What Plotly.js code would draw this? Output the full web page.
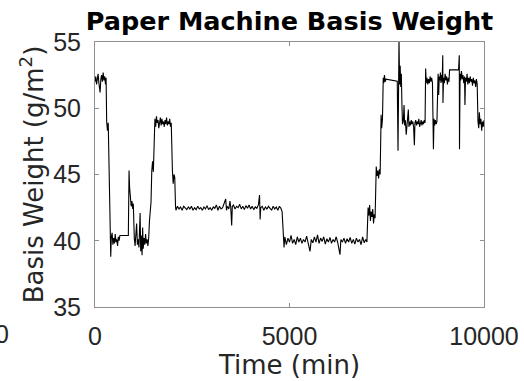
<!DOCTYPE html>
<html>
<head>
<meta charset="utf-8">
<script src="https://cdn.plot.ly/plotly-3.0.1.min.js"></script>
<style>html,body{margin:0;padding:0;background:#fff;}#chart{width:524px;height:381px;}</style>
</head>
<body>
<div id="chart"></div>
<script>
// Time stamps (min) and basis weight (g/m^2)
var timeMin = [
  0,20,40,60,80,100,130,150,170,190,210,230,250,270,285,
  300,320,340,360,375,390,405,420,
  440,460,480,500,520,540,560,580,600,620,640,857,
  875,890,910,930,950,970,985,
  1000,1010,1030,1050,1070,1090,1110,1130,1150,1160,1175,1190,1210,1225,1240,1260,1280,1300,1320,1340,1360,1380,
  1400,1420,1440,1460,1480,1500,1520,
  1540,1560,1580,1600,1620,1640,1660,1680,1700,1720,1740,1760,1780,1800,1820,1840,1860,1880,1900,1920,1940,1960,
  1990,2010,2030,2050,2070,
  2080,2120,2160,2200,2240,2280,2320,2360,2400,2440,2480,2520,2560,2600,2640,2680,2720,2760,2800,2840,2880,2920,2960,3000,
  3040,3080,3120,3160,3200,3240,3280,3320,3360,3380,3400,3440,3470,3490,3514,3530,3560,3600,3640,3680,3720,3760,3800,3840,
  3880,3920,3960,4000,4040,4080,4120,4160,4200,4230,4245,4260,4300,4340,4380,4420,4460,4500,4540,4580,4620,4660,4700,4740,4780,4810,
  4840,4860,4880,4920,4960,5000,5040,5080,5120,5160,5200,5240,5280,5320,5360,5400,5440,5480,5527,5560,5600,5640,5680,5720,
  5760,5800,5840,5880,5920,5960,6000,6040,6080,6120,6160,6200,6240,6298,6320,6360,6400,6440,6480,6520,6560,6600,6640,6680,
  6720,6760,6800,6840,6880,6920,6960,6990,
  7000,7020,7040,7060,7080,7100,7120,7140,7160,7180,7200,
  7215,7230,7250,7270,7290,7310,7330,
  7340,7355,7370,7390,
  7410,7425,7440,7460,7480,7770,
  7790,7800,7815,7830,7845,7860,7875,7890,7905,
  7925,7945,7960,7980,8000,8020,8040,8055,8070,8090,8110,8130,8150,8170,8190,8210,8225,8245,8265,8285,8305,8325,8345,8365,
  8385,8405,8425,8445,8465,8485,
  8500,8515,8535,8555,8575,8595,8615,8635,8655,8675,
  8700,8715,8730,8750,8770,8790,
  8805,8820,8835,8850,8865,8880,8895,8910,8925,8940,8945,8960,8980,9000,9020,9040,9060,9080,9100,9115,9345,
  9365,9370,9385,9400,9420,9440,9460,9480,9500,9510,9525,9545,9565,9585,9605,9625,9645,9665,9685,9705,9725,9745,9765,9785,9805,9825,
  9845,9865,9880,9900,9920,9940,9960,9980,10000
];
var basisWeight = [
  52.0,52.4,51.8,52.3,52.6,51.9,51.2,52.2,52.5,52.0,52.7,52.1,52.4,51.8,52.3,
  49.0,48.3,48.9,46.0,45.2,42.0,38.8,40.3,
  40.6,39.7,40.2,39.8,40.5,39.9,40.1,39.6,40.3,40.0,40.4,40.4,
  45.3,44.0,43.2,42.6,43.0,42.4,42.8,
  40.2,40.2,39.6,40.3,41.3,39.7,40.1,39.5,40.6,42.1,39.2,40.4,38.9,41.0,39.4,40.2,39.7,40.5,39.8,40.1,39.6,40.2,
  41.5,42.5,42.9,45.3,46.0,45.2,48.6,
  49.2,48.6,49.4,48.9,49.1,48.5,49.0,49.3,48.7,49.2,48.8,49.0,48.6,49.1,48.8,49.3,48.7,49.0,48.8,49.2,48.6,48.9,
  45.3,44.3,45.0,44.8,42.6,
  42.3,42.6,42.4,42.55,42.3,42.6,42.45,42.35,42.55,42.4,42.6,42.3,42.5,42.35,42.6,42.4,42.5,42.3,42.55,42.4,42.65,42.35,42.5,42.3,
  42.55,42.45,42.7,42.3,42.6,42.4,42.5,42.8,43.15,42.3,42.6,42.4,43.0,42.5,41.15,42.6,42.7,42.4,42.6,42.5,42.75,42.4,42.6,42.35,
  42.65,42.45,42.7,42.4,42.6,42.35,42.55,42.45,42.7,43.45,41.6,42.5,42.6,42.3,42.55,42.4,42.6,42.45,42.3,42.6,42.4,42.55,42.3,42.6,42.45,42.2,
  40.1,39.5,40.3,39.7,40.2,39.9,40.4,39.8,40.1,39.7,40.3,39.9,40.2,39.8,40.1,39.9,40.35,39.8,39.2,40.1,39.85,40.3,39.9,40.45,
  39.8,40.2,39.95,40.3,39.75,40.15,39.9,40.25,39.8,40.1,39.9,40.3,39.85,38.95,40.1,39.9,40.2,39.8,40.15,39.9,40.25,39.8,40.1,39.75,
  40.2,39.9,40.1,39.7,40.3,39.85,40.1,39.9,
  41.6,42.5,41.9,42.7,41.5,42.2,41.8,42.4,41.3,42.0,41.7,
  44.8,45.6,44.9,45.3,44.7,45.4,45.0,
  48.6,49.5,48.5,49.2,
  52.3,51.9,52.5,52.0,52.2,52.05,
  46.8,52.0,55.2,51.8,53.2,51.6,52.6,50.3,48.8,
  49.0,50.25,48.7,49.1,48.0,48.9,49.2,49.9,48.6,49.0,48.7,49.1,48.8,49.0,48.6,47.2,48.9,49.1,48.7,49.0,48.8,49.2,48.6,48.9,
  49.1,48.7,49.0,48.8,49.1,48.9,
  53.0,51.9,52.3,51.8,52.2,51.9,52.4,52.0,52.3,51.9,
  46.9,49.2,48.7,49.1,48.8,49.0,
  52.2,52.6,51.0,52.4,52.1,52.7,51.9,52.5,52.0,54.0,50.4,52.3,51.9,52.6,52.1,52.4,51.8,52.3,52.0,52.9,52.9,
  54.0,46.9,52.6,52.1,52.8,52.2,52.5,51.9,52.4,50.25,52.3,52.0,52.6,51.8,52.3,51.9,52.4,52.0,52.2,51.7,52.3,51.9,52.1,51.6,52.2,51.8,
  49.0,48.5,49.7,48.8,49.2,48.3,49.0,48.6,49.1
];
var xTicks = [0, 5000, 10000];
var yTicks = [35, 40, 45, 50, 55];
var xRange = [0, 10000];
var yRange = [35, 55];

var tickFont = {family: 'Liberation Sans, Arial, sans-serif', size: 25, color: '#262626'};
var labelFont = {family: 'DejaVu Sans, sans-serif', size: 26, color: '#262626'};

var trace = {
  x: timeMin, y: basisWeight, type: 'scatter', mode: 'lines',
  line: {color: '#000000', width: 1.1}, hoverinfo: 'skip'
};

var axisCommon = {
  showline: true, mirror: 'ticks', linecolor: '#8f8f8f', linewidth: 1,
  ticks: 'inside', ticklen: 4, tickcolor: '#8f8f8f', tickwidth: 1,
  showgrid: false, zeroline: false, tickfont: tickFont, fixedrange: true
};

var layout = {
  width: 524, height: 381,
  margin: {l: 95, r: 40, t: 42, b: 74, pad: 0},
  paper_bgcolor: '#ffffff', plot_bgcolor: '#ffffff',
  showlegend: false,
  title: {
    text: '<b>Paper Machine Basis Weight</b>',
    font: {family: 'DejaVu Sans, sans-serif', size: 25.5, color: '#000000'},
    xref: 'paper', x: 0.5, xanchor: 'center',
    yref: 'container', y: 0.944, yanchor: 'middle'
  },
  xaxis: Object.assign({}, axisCommon, {
    range: xRange, tickvals: xTicks, ticktext: xTicks.map(String),
    ticklabelstandoff: 7,
    title: {text: 'Time (min)', font: labelFont, standoff: 6}
  }),
  yaxis: Object.assign({}, axisCommon, {
    range: yRange, tickvals: yTicks, ticktext: yTicks.map(String),
    ticklabelstandoff: 8,
    title: {text: 'Basis Weight (g/m<sup>2</sup>)', font: labelFont, standoff: 2}
  }),
  annotations: [{
    text: '0', xref: 'paper', yref: 'paper', x: -0.238, y: -0.1,
    xanchor: 'center', yanchor: 'middle', showarrow: false, font: tickFont
  }]
};

Plotly.newPlot('chart', [trace], layout, {displayModeBar: false, staticPlot: true});
</script>
</body>
</html>
